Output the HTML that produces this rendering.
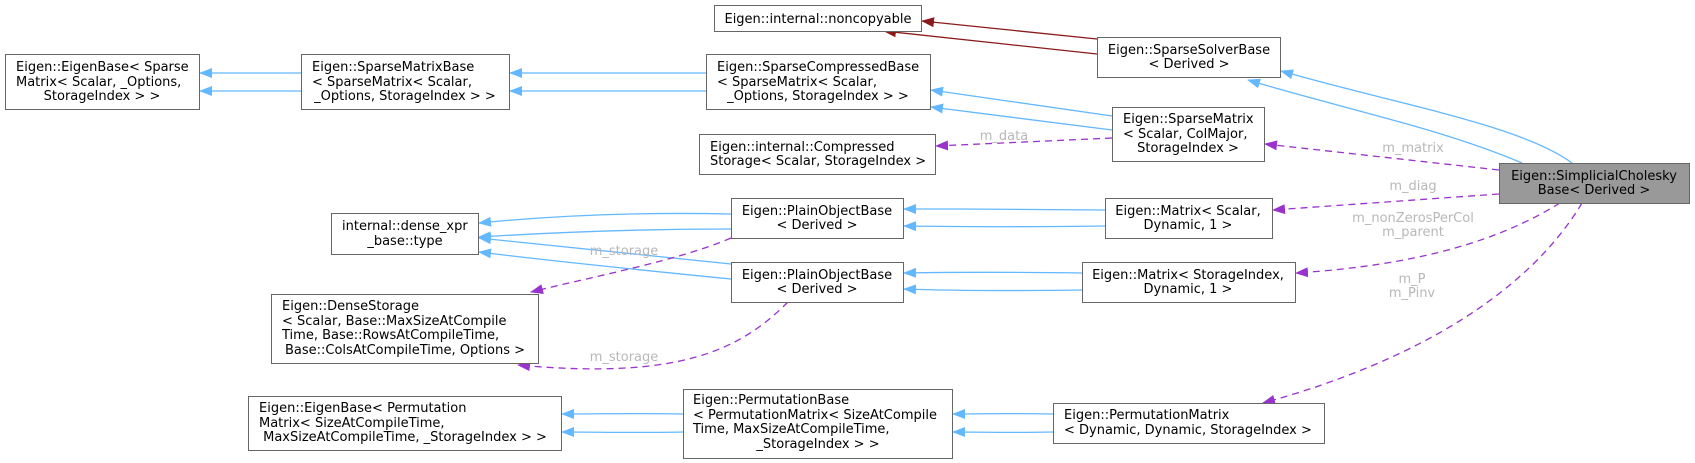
<!DOCTYPE html>
<html><head><meta charset="utf-8"><style>
html,body{margin:0;padding:0;background:#fff;width:1695px;height:463px;overflow:hidden}
svg text{font-family:"DejaVu Sans","Liberation Sans",sans-serif;font-size:13px;fill:#000}
.l{fill:#b8b8b8}
.s{text-anchor:start}
.m{text-anchor:middle}
</style></head><body>
<svg width="1695" height="463" viewBox="0 0 1695 463" xmlns="http://www.w3.org/2000/svg">
<defs>
<marker id="b" markerWidth="13" markerHeight="10" refX="12" refY="5" orient="auto" markerUnits="userSpaceOnUse"><path d="M0,0 L13,5 L0,10 z" fill="#63b8ff"/></marker>
<marker id="r" markerWidth="13" markerHeight="10" refX="12" refY="5" orient="auto" markerUnits="userSpaceOnUse"><path d="M0,0 L13,5 L0,10 z" fill="#8b1a1a"/></marker>
<marker id="p" markerWidth="13" markerHeight="10" refX="12" refY="5" orient="auto" markerUnits="userSpaceOnUse"><path d="M0,0 L13,5 L0,10 z" fill="#9a32cd"/></marker>
</defs>
<g fill="none" stroke="#63b8ff" stroke-width="1.3">
<path d="M301,73 L200,73" marker-end="url(#b)"/>
<path d="M301,91 L200,91" marker-end="url(#b)"/>
<path d="M706,73 L510,73" marker-end="url(#b)"/>
<path d="M706,91 L510,91" marker-end="url(#b)"/>
<path d="M1112,116 L931,90" marker-end="url(#b)"/>
<path d="M1112,130 L931,107" marker-end="url(#b)"/>
<path d="M1572,163 C1520,125 1400,105 1281,71" marker-end="url(#b)"/>
<path d="M1522,163 C1440,128 1340,108 1248,80" marker-end="url(#b)"/>
<path d="M731,214 C640,212 560,215 479,223" marker-end="url(#b)"/>
<path d="M731,229 C640,229 560,232 479,237" marker-end="url(#b)"/>
<path d="M731,264 L479,238" marker-end="url(#b)"/>
<path d="M731,279 C640,270 560,262 479,252" marker-end="url(#b)"/>
<path d="M1105,210 C1030,209 970,209 904,209" marker-end="url(#b)"/>
<path d="M1105,226 C1030,227 970,227 904,226" marker-end="url(#b)"/>
<path d="M1082,273 C1010,272 960,272 904,273" marker-end="url(#b)"/>
<path d="M1082,290 C1010,291 960,291 904,289" marker-end="url(#b)"/>
<path d="M683,414 C640,413 600,414 562,414" marker-end="url(#b)"/>
<path d="M683,432 C640,433 600,432 562,432" marker-end="url(#b)"/>
<path d="M1053,414 C1010,413 990,414 953,414" marker-end="url(#b)"/>
<path d="M1053,432 C1010,433 990,432 953,432" marker-end="url(#b)"/>
</g>
<g fill="none" stroke="#8b1a1a" stroke-width="1.3">
<path d="M1097,39 L922,21" marker-end="url(#r)"/>
<path d="M1097,54 L884,31" marker-end="url(#r)"/>
</g>
<g fill="none" stroke="#9a32cd" stroke-width="1.3" stroke-dasharray="7,5">
<path d="M1112,138 L936,146" marker-end="url(#p)"/>
<path d="M1499,170 L1265,144" marker-end="url(#p)"/>
<path d="M1499,194 L1273,210" marker-end="url(#p)"/>
<path d="M1560,203 C1500,240 1420,265 1296,273" marker-end="url(#p)"/>
<path d="M1582,203 C1530,290 1420,360 1263,403" marker-end="url(#p)"/>
<path d="M731,238 C680,260 600,275 531,292" marker-end="url(#p)"/>
<path d="M788,302 C740,350 680,380 518,365" marker-end="url(#p)"/>
</g>
<g class="m">
<text class="l" x="1004" y="140">m_data</text>
<text class="l" x="1413" y="152">m_matrix</text>
<text class="l" x="1413" y="190">m_diag</text>
<text class="l" x="1413" y="222">m_nonZerosPerCol</text>
<text class="l" x="1413" y="236">m_parent</text>
<text class="l" x="1412" y="283">m_P</text>
<text class="l" x="1412" y="297">m_Pinv</text>
<text class="l" x="624" y="255">m_storage</text>
<text class="l" x="624" y="361">m_storage</text>
</g>
<g fill="#fff" stroke="#666" stroke-width="1">
<rect x="5.5" y="54.5" width="194" height="55"/>
<rect x="301.5" y="54.5" width="208" height="55"/>
<rect x="714.5" y="5.5" width="207" height="26"/>
<rect x="706.5" y="54.5" width="224" height="55"/>
<rect x="1097.5" y="37.5" width="183" height="40"/>
<rect x="699.5" y="134.5" width="236" height="40"/>
<rect x="1112.5" y="107.5" width="152" height="54"/>
<rect x="1499.5" y="163.5" width="190" height="40" fill="#999"/>
<rect x="331.5" y="213.5" width="147" height="41"/>
<rect x="731.5" y="198.5" width="172" height="40"/>
<rect x="731.5" y="262.5" width="172" height="40"/>
<rect x="1105.5" y="198.5" width="167" height="40"/>
<rect x="1082.5" y="262.5" width="213" height="40"/>
<rect x="271.5" y="294.5" width="267" height="69"/>
<rect x="248.5" y="396.5" width="313" height="54"/>
<rect x="683.5" y="389.5" width="269" height="69"/>
<rect x="1053.5" y="403.5" width="271" height="40"/>
</g>
<g class="m">
<text class="s" x="16" y="71">Eigen::EigenBase&lt; Sparse</text><text class="s" x="16" y="86">Matrix&lt; Scalar, _Options,</text><text x="102" y="100">StorageIndex &gt; &gt;</text>
<text class="s" x="312" y="71">Eigen::SparseMatrixBase</text><text class="s" x="312" y="86">&lt; SparseMatrix&lt; Scalar,</text><text x="405" y="100">_Options, StorageIndex &gt; &gt;</text>
<text x="818" y="23">Eigen::internal::noncopyable</text>
<text class="s" x="717" y="71">Eigen::SparseCompressedBase</text><text class="s" x="717" y="86">&lt; SparseMatrix&lt; Scalar,</text><text x="818" y="100">_Options, StorageIndex &gt; &gt;</text>
<text x="1189" y="54">Eigen::SparseSolverBase</text><text x="1189" y="68">&lt; Derived &gt;</text>
<text class="s" x="710" y="151">Eigen::internal::Compressed</text><text class="s" x="710" y="165">Storage&lt; Scalar, StorageIndex &gt;</text>
<text class="s" x="1123" y="123">Eigen::SparseMatrix</text><text class="s" x="1123" y="138">&lt; Scalar, ColMajor,</text><text x="1188" y="152">StorageIndex &gt;</text>
<text x="1594" y="180">Eigen::SimplicialCholesky</text><text x="1594" y="194">Base&lt; Derived &gt;</text>
<text class="s" x="342" y="230">internal::dense_xpr</text><text x="405" y="245">_base::type</text>
<text x="817" y="215">Eigen::PlainObjectBase</text><text x="817" y="229">&lt; Derived &gt;</text>
<text x="817" y="279">Eigen::PlainObjectBase</text><text x="817" y="293">&lt; Derived &gt;</text>
<text x="1188" y="215">Eigen::Matrix&lt; Scalar,</text><text x="1188" y="229">Dynamic, 1 &gt;</text>
<text x="1188" y="279">Eigen::Matrix&lt; StorageIndex,</text><text x="1188" y="293">Dynamic, 1 &gt;</text>
<text class="s" x="282" y="310">Eigen::DenseStorage</text><text class="s" x="282" y="325">&lt; Scalar, Base::MaxSizeAtCompile</text><text class="s" x="282" y="339">Time, Base::RowsAtCompileTime,</text><text x="405" y="354">Base::ColsAtCompileTime, Options &gt;</text>
<text class="s" x="259" y="412">Eigen::EigenBase&lt; Permutation</text><text class="s" x="259" y="427">Matrix&lt; SizeAtCompileTime,</text><text x="405" y="441">MaxSizeAtCompileTime, _StorageIndex &gt; &gt;</text>
<text class="s" x="693" y="404">Eigen::PermutationBase</text><text class="s" x="693" y="419">&lt; PermutationMatrix&lt; SizeAtCompile</text><text class="s" x="693" y="433">Time, MaxSizeAtCompileTime,</text><text x="818" y="448">_StorageIndex &gt; &gt;</text>
<text class="s" x="1064" y="419">Eigen::PermutationMatrix</text><text class="s" x="1064" y="434">&lt; Dynamic, Dynamic, StorageIndex &gt;</text>
</g>
</svg>
</body></html>
